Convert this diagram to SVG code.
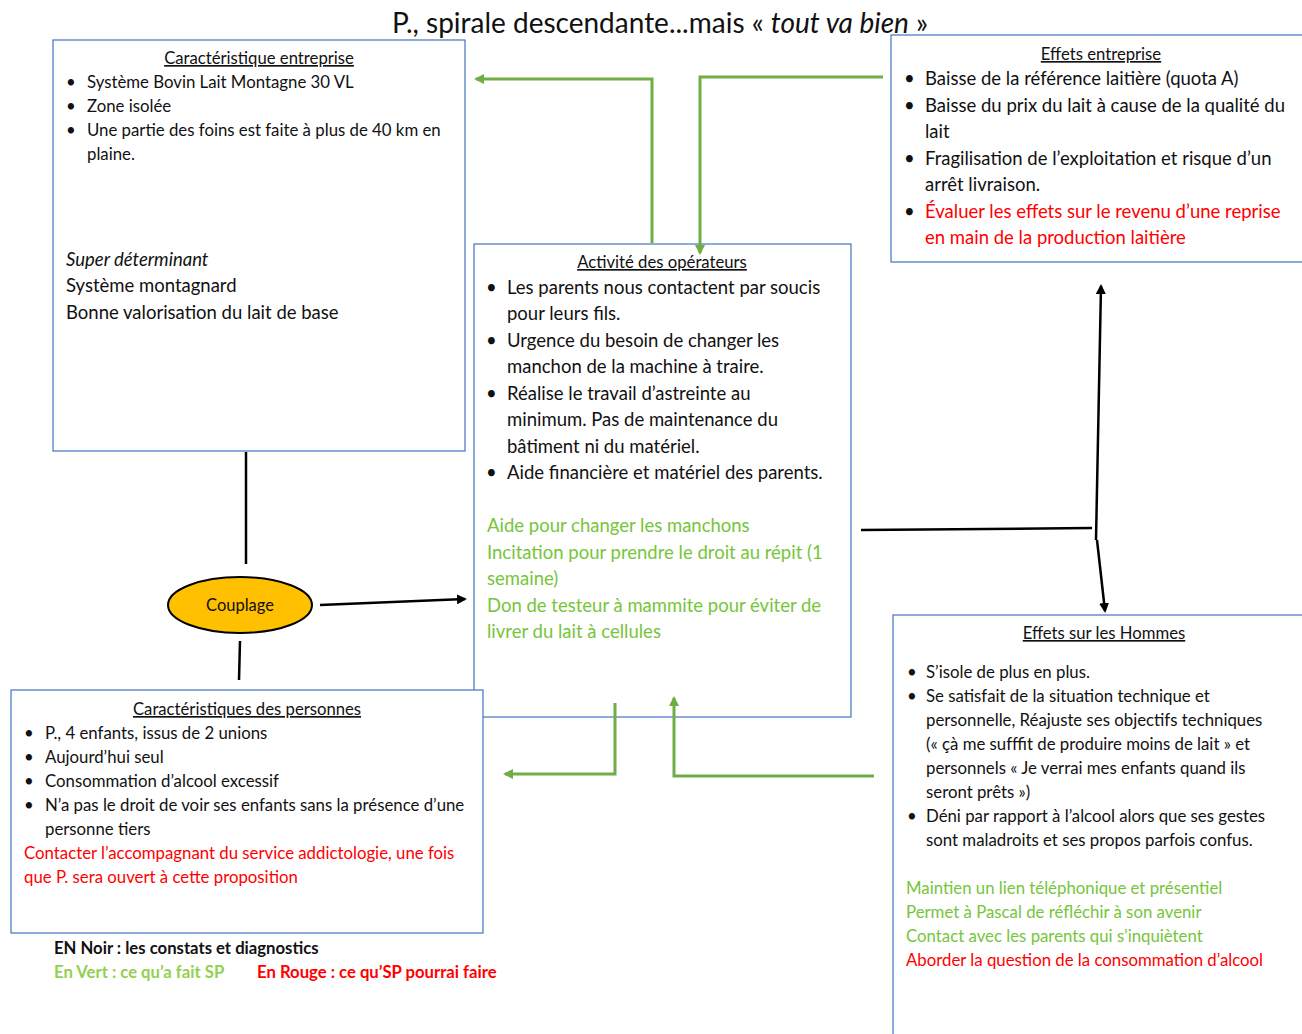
<svg xmlns="http://www.w3.org/2000/svg" width="1302" height="1034" viewBox="0 0 1302 1034">
<style>
text{font-family:Lato,"Liberation Sans",sans-serif;fill:#111}
.box{fill:#fff;stroke:#4472C4;stroke-width:1.2}
.h{text-decoration:underline;text-anchor:middle;font-size:16.7px}
.s16{font-size:16.8px}
.s17{font-size:18.5px}
.g{fill:#76C53A}
.r{fill:#FF0000}
.gc{fill:none;stroke:#70AD47;stroke-width:3}
.bc{fill:none;stroke:#000;stroke-width:2.5}
</style>
<defs>
<marker id="ga" markerWidth="10" markerHeight="10" refX="8" refY="5" orient="auto" markerUnits="userSpaceOnUse" viewBox="0 0 10 10"><path d="M0,0 L10,5 L0,10 z" fill="#70AD47"/></marker>
<marker id="ba" markerWidth="10" markerHeight="10" refX="8" refY="5" orient="auto" markerUnits="userSpaceOnUse" viewBox="0 0 10 10"><path d="M0,0 L10,5 L0,10 z" fill="#000"/></marker>
</defs>
<rect width="1302" height="1034" fill="#fff"/>
<text x="660" y="33" text-anchor="middle" font-size="28">P., spirale descendante...mais « <tspan font-style="italic">tout va bien</tspan> »</text>

<g id="caract-entreprise">
<rect class="box" x="53" y="40" width="412" height="411"/>
<text class="h" x="259" y="64">Caractéristique entreprise</text>
<g class="s16">
<text x="66" y="88">•</text><text x="87" y="88">Système Bovin Lait Montagne 30 VL</text>
<text x="66" y="112">•</text><text x="87" y="112">Zone isolée</text>
<text x="66" y="136">•</text><text x="87" y="136">Une partie des foins est faite à plus de 40 km en</text>
<text x="87" y="160">plaine.</text>
</g>
<g class="s17">
<text x="66" y="266" font-style="italic">Super déterminant</text>
<text x="66" y="292">Système montagnard</text>
<text x="66" y="319">Bonne valorisation du lait de base</text>
</g>
</g>

<g id="activite">
<rect class="box" x="474" y="244" width="377" height="473"/>
<text class="h" x="662" y="268">Activité des opérateurs</text>
<g class="s17">
<text x="486" y="294">•</text><text x="507" y="294">Les parents nous contactent par soucis</text>
<text x="507" y="320">pour leurs fils.</text>
<text x="486" y="347">•</text><text x="507" y="347">Urgence du besoin de changer les</text>
<text x="507" y="373">manchon de la machine à traire.</text>
<text x="486" y="400">•</text><text x="507" y="400">Réalise le travail d’astreinte au</text>
<text x="507" y="426">minimum. Pas de maintenance du</text>
<text x="507" y="453">bâtiment ni du matériel.</text>
<text x="486" y="479">•</text><text x="507" y="479">Aide financière et matériel des parents.</text>
<text class="g" x="487" y="532">Aide pour changer les manchons</text>
<text class="g" x="487" y="559">Incitation pour prendre le droit au répit (1</text>
<text class="g" x="487" y="585">semaine)</text>
<text class="g" x="487" y="612">Don de testeur à mammite pour éviter de</text>
<text class="g" x="487" y="638">livrer du lait à cellules</text>
</g>
</g>

<g id="effets-entreprise">
<rect class="box" x="891" y="35" width="420" height="227"/>
<text class="h" x="1101" y="60">Effets entreprise</text>
<g class="s17">
<text x="904" y="85">•</text><text x="925" y="85">Baisse de la référence laitière (quota A)</text>
<text x="904" y="112">•</text><text x="925" y="112">Baisse du prix du lait à cause de la qualité du</text>
<text x="925" y="138">lait</text>
<text x="904" y="165">•</text><text x="925" y="165">Fragilisation de l’exploitation et risque d’un</text>
<text x="925" y="191">arrêt livraison.</text>
<text x="904" y="218">•</text><text class="r" x="925" y="218">Évaluer les effets sur le revenu d’une reprise</text>
<text class="r" x="925" y="244">en main de la production laitière</text>
</g>
</g>

<g id="effets-hommes">
<rect class="box" x="893" y="615" width="420" height="430"/>
<text class="h" x="1104" y="639">Effets sur les Hommes</text>
<g class="s16">
<text x="907" y="678">•</text><text x="926" y="678">S’isole de plus en plus.</text>
<text x="907" y="702">•</text><text x="926" y="702">Se satisfait de la situation technique et</text>
<text x="926" y="726">personnelle, Réajuste ses objectifs techniques</text>
<text x="926" y="750">(« çà me sufffit de produire moins de lait » et</text>
<text x="926" y="774">personnels « Je verrai mes enfants quand ils</text>
<text x="926" y="798">seront prêts »)</text>
<text x="907" y="822">•</text><text x="926" y="822">Déni par rapport à l’alcool alors que ses gestes</text>
<text x="926" y="846">sont maladroits et ses propos parfois confus.</text>
<text class="g" x="906" y="894">Maintien un lien téléphonique et présentiel</text>
<text class="g" x="906" y="918">Permet à Pascal de réfléchir à son avenir</text>
<text class="g" x="906" y="942">Contact avec les parents qui s’inquiètent</text>
<text class="r" x="906" y="966">Aborder la question de la consommation d’alcool</text>
</g>
</g>

<g id="caract-personnes">
<rect class="box" x="11" y="690" width="472" height="243"/>
<text class="h" x="247" y="715">Caractéristiques des personnes</text>
<g class="s16">
<text x="24" y="739">•</text><text x="45" y="739">P., 4 enfants, issus de 2 unions</text>
<text x="24" y="763">•</text><text x="45" y="763">Aujourd’hui seul</text>
<text x="24" y="787">•</text><text x="45" y="787">Consommation d’alcool excessif</text>
<text x="24" y="811">•</text><text x="45" y="811">N’a pas le droit de voir ses enfants sans la présence d’une</text>
<text x="45" y="835">personne tiers</text>
<text class="r" x="24" y="859">Contacter l’accompagnant du service addictologie, une fois</text>
<text class="r" x="24" y="883">que P. sera ouvert à cette proposition</text>
</g>
</g>

<g id="couplage">
<ellipse cx="240" cy="605" rx="72" ry="28" fill="#FFC000" stroke="#000" stroke-width="2"/>
<text x="240" y="611" text-anchor="middle" font-size="16.5">Couplage</text>
</g>

<g id="legende" font-weight="bold" font-size="16.7">
<text x="54" y="954">EN Noir : les constats et diagnostics</text>
<text x="54" y="978" style="fill:#92D050">En Vert : ce qu’a fait SP</text>
<text x="257" y="978" class="r">En Rouge : ce qu’SP pourrai faire</text>
</g>

<g id="connectors">
<path class="gc" d="M652,243 V79 H476" marker-end="url(#ga)"/>
<path class="gc" d="M883,77 H700 V253" marker-end="url(#ga)"/>
<path class="gc" d="M615,703 V774 H505" marker-end="url(#ga)"/>
<path class="gc" d="M874,776 H674 V698" marker-end="url(#ga)"/>
<path class="bc" d="M246,452 V564"/>
<path class="bc" d="M240,641 L239,680"/>
<path class="bc" d="M320,605 L465,599" marker-end="url(#ba)"/>
<path class="bc" d="M861,530 L1092,528"/>
<path class="bc" d="M1096,540 L1101,286" marker-end="url(#ba)"/>
<path class="bc" d="M1097,540 L1105,611" marker-end="url(#ba)"/>
</g>
</svg>
